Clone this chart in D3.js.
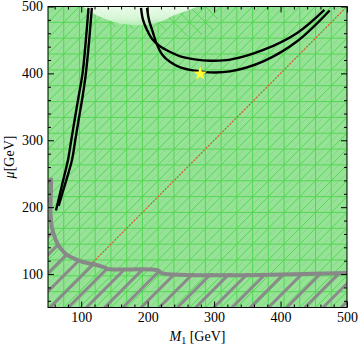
<!DOCTYPE html>
<html>
<head>
<meta charset="utf-8">
<script src="https://cdn.jsdelivr.net/npm/d3@7"></script>
<style>
  body { margin: 0; background: #fff; }
  svg { display: block; font-family: "Liberation Serif", "Times New Roman", serif; }
</style>
</head>
<body>
<svg></svg>
<script>
// axis ticks
const majorTicks = [100, 200, 300, 400, 500]
const minorTicks = [60, 80, 120, 140, 160, 180, 220, 240, 260, 280, 320, 340, 360, 380, 420, 440, 460, 480]

// left contour, two lines (M1, mu)
const leftCurveA = [[62, 195], [68, 220], [73, 241], [80, 270], [85, 300], [90, 330], [96, 365], [102, 400], [107, 450], [111, 498]]
const leftCurveB = [[66, 202], [72, 222], [78, 242], [86, 270], [91, 300], [96, 330], [102, 365], [107, 400], [112, 450], [116, 498]]

// U shaped contour, two lines
const uUpper = [[190, 498], [193, 480], [199, 465], [207, 451], [218, 441], [234, 432], [249, 425.5], [271, 421], [294, 419], [324, 420.5], [374, 435], [425, 460.5], [466, 495]]
const uLower = [[199, 498], [202, 480], [208, 461], [214, 443], [222, 428], [234, 417], [249, 409], [271, 404], [294, 401.5], [324, 403], [374, 418], [425, 448], [474, 494]]

// excluded region boundary (grey, hatched below)
const greyBoundary = [[54.5, 244], [54.5, 228], [54, 211], [53.8, 189], [56, 169], [60.5, 154], [65, 144], [71, 136], [78.6, 128.6], [87.6, 124], [102.7, 118], [117.7, 115], [132.8, 110.6], [140.3, 107.6], [215.6, 105.5], [221, 101.5], [500, 101.5]]

// light region at the top
const lightRegion = [[103, 500], [113, 492.5], [133, 482.7], [154, 475.3], [188, 472], [218, 477], [238, 486], [259, 493.6], [276, 500]]

// mesh refinement: band under the light region and a patch near the top
const refineRegion = [[100, 500], [112, 487], [133, 476], [154, 469], [188, 466], [218, 470], [236, 460], [262, 455], [290, 458], [306, 470], [306, 500]]

// mu = M1 line
const diagLine = [[118, 118], [497, 497]]

// benchmark point
const star = [279, 401]

const meshDivisions = 19

const svg = d3.select("svg")
  .attr("width", 360)
  .attr("height", 348)

const x = d3.scaleLinear().domain([50, 500]).range([48, 347])
const y = d3.scaleLinear().domain([50, 500]).range([307.5, 6.5])

const defs = svg.append("defs")
defs.append("clipPath").attr("id", "plot")
  .append("rect")
  .attr("x", x(50)).attr("y", y(500))
  .attr("width", x(500) - x(50)).attr("height", y(50) - y(500))

const grad = defs.append("linearGradient").attr("id", "light")
  .attr("x1", 0).attr("y1", 0).attr("x2", 0).attr("y2", 1)
grad.append("stop").attr("offset", "0%").attr("stop-color", "#f6fff6")
grad.append("stop").attr("offset", "60%").attr("stop-color", "#e2fae2")
grad.append("stop").attr("offset", "100%").attr("stop-color", "#bdeebd")

const line = d3.line().x(d => x(d[0])).y(d => y(d[1]))
const curve = d3.line().x(d => x(d[0])).y(d => y(d[1])).curve(d3.curveCatmullRom.alpha(0.5))

const plot = svg.append("g").attr("clip-path", "url(#plot)")

// green allowed region
plot.append("rect")
  .attr("x", x(50)).attr("y", y(500))
  .attr("width", x(500) - x(50)).attr("height", y(50) - y(500))
  .attr("fill", "#96e296")

// mesh: grid + diagonals
const step = 450 / meshDivisions
const idx = d3.range(0, meshDivisions + 1)
const mesh = plot.append("g")

const diagSeg = function (k) {
  // v = u + k in mesh index space, clipped to [0, n]
  const n = meshDivisions
  const u0 = Math.max(0, -k), u1 = Math.min(n, n - k)
  if (u1 <= u0) return null
  return [[50 + u0 * step, 50 + (u0 + k) * step], [50 + u1 * step, 50 + (u1 + k) * step]]
}

// faint diagonals half way between the mesh diagonals
mesh.selectAll("path.hatch")
  .data(d3.range(-meshDivisions, meshDivisions, 1).map(k => diagSeg(k + 0.5)).filter(d => d))
  .join("path")
  .attr("class", "hatch")
  .attr("d", line)
  .attr("stroke", "#74c874")
  .attr("stroke-opacity", 0.45)
  .attr("stroke-width", 0.9)
  .attr("fill", "none")

mesh.selectAll("path.diag")
  .data(d3.range(-meshDivisions + 1, meshDivisions).map(k => diagSeg(k)).filter(d => d))
  .join("path")
  .attr("class", "diag")
  .attr("d", line)
  .attr("stroke", "#55d655")
  .attr("stroke-width", 1)
  .attr("fill", "none")

mesh.selectAll("line.v")
  .data(idx)
  .join("line")
  .attr("class", "v")
  .attr("x1", i => x(50 + i * step)).attr("x2", i => x(50 + i * step))
  .attr("y1", y(50)).attr("y2", y(500))
  .attr("stroke", "#55d655")
  .attr("stroke-width", 1)

mesh.selectAll("line.h")
  .data(idx)
  .join("line")
  .attr("class", "h")
  .attr("y1", i => y(50 + i * step)).attr("y2", i => y(50 + i * step))
  .attr("x1", x(50)).attr("x2", x(500))
  .attr("stroke", "#55d655")
  .attr("stroke-width", 1)

// refinement near the light region
defs.append("clipPath").attr("id", "refine")
  .append("path").attr("d", line(refineRegion) + "Z")

const refine = plot.append("g").attr("clip-path", "url(#refine)")
refine.selectAll("path")
  .data(d3.range(-meshDivisions, meshDivisions + 1))
  .join("path")
  .attr("d", k => line([[50, 500 - k * step], [500, 50 - k * step]]))
  .attr("stroke", "#55d655")
  .attr("stroke-width", 1)
  .attr("fill", "none")

// light region
plot.append("path")
  .attr("d", curve(lightRegion) + "L" + x(lightRegion[0][0]) + "," + y(500) + "Z")
  .attr("fill", "url(#light)")
  .attr("opacity", 0.88)

// hatched excluded region
const greyPoly = greyBoundary.concat([[500, 50], [50, 50], [50, 244]])
defs.append("clipPath").attr("id", "grey")
  .append("path").attr("d", line(greyPoly) + "Z")

plot.append("g").attr("clip-path", "url(#grey)")
  .selectAll("line")
  .data(d3.range(-20, 20))
  .join("line")
  .attr("x1", k => x(50) + 2 + k * 18.2)
  .attr("y1", y(50))
  .attr("x2", k => x(50) + 2 + k * 18.2 + 300)
  .attr("y2", y(50) - 300)
  .attr("stroke", "#8a8a8a")
  .attr("stroke-width", 3)

plot.append("path")
  .attr("d", curve(greyBoundary))
  .attr("fill", "none")
  .attr("stroke", "#888")
  .attr("stroke-width", 4)
  .attr("stroke-linejoin", "round")

// mu = M1
plot.append("path")
  .attr("d", line(diagLine))
  .attr("fill", "none")
  .attr("stroke", "#ea4a2c")
  .attr("stroke-width", 1.2)
  .attr("stroke-dasharray", "1.6,1.8")

// black contours
plot.selectAll("path.contour")
  .data([leftCurveA, leftCurveB, uUpper, uLower])
  .join("path")
  .attr("class", "contour")
  .attr("d", curve)
  .attr("fill", "none")
  .attr("stroke", "#000")
  .attr("stroke-width", 2.4)

// star
plot.append("path")
  .attr("d", d3.symbol(d3.symbolStar).size(62)())
  .attr("transform", `translate(${x(star[0])},${y(star[1]) + 1})`)
  .attr("fill", "#ffff33")

// axes, ticks pointing inward on all four sides
const axes = [
  [d3.axisBottom, `translate(0,${y(50)})`, x, true],
  [d3.axisTop, `translate(0,${y(500)})`, x, false],
  [d3.axisLeft, `translate(${x(50)},0)`, y, true],
  [d3.axisRight, `translate(${x(500)},0)`, y, false]
]

axes.forEach(([ax, tr, sc, labels]) => {
  const g = svg.append("g").attr("transform", tr)
  g.call(ax(sc).tickValues(majorTicks).tickSize(-6).tickPadding(labels ? 5 : 0)
    .tickFormat(labels ? d3.format("d") : ""))
  g.append("g").call(ax(sc).tickValues(minorTicks).tickSize(-3).tickFormat(""))
  g.selectAll(".domain").remove()
  g.selectAll("line").attr("stroke", "#000")
  g.selectAll("text").attr("fill", "#000").attr("font-size", 14)
    .attr("font-family", "Liberation Serif, serif")
})

svg.append("rect")
  .attr("x", x(50)).attr("y", y(500))
  .attr("width", x(500) - x(50)).attr("height", y(50) - y(500))
  .attr("fill", "none")
  .attr("stroke", "#000")
  .attr("stroke-width", 1)

// axis titles
const xt = svg.append("text")
  .attr("x", (x(50) + x(500)) / 2)
  .attr("y", 341)
  .attr("text-anchor", "middle")
  .attr("font-size", 14)
xt.append("tspan").attr("font-style", "italic").text("M")
xt.append("tspan").attr("font-size", 10).attr("dy", 3).text("1")
xt.append("tspan").attr("dy", -3).text(" [GeV]")

const yt = svg.append("text")
  .attr("transform", `translate(14,${(y(50) + y(500)) / 2}) rotate(-90)`)
  .attr("text-anchor", "middle")
  .attr("font-size", 14)
yt.append("tspan").attr("font-style", "italic").text("μ")
yt.append("tspan").text("[GeV]")
</script>
</body>
</html>
